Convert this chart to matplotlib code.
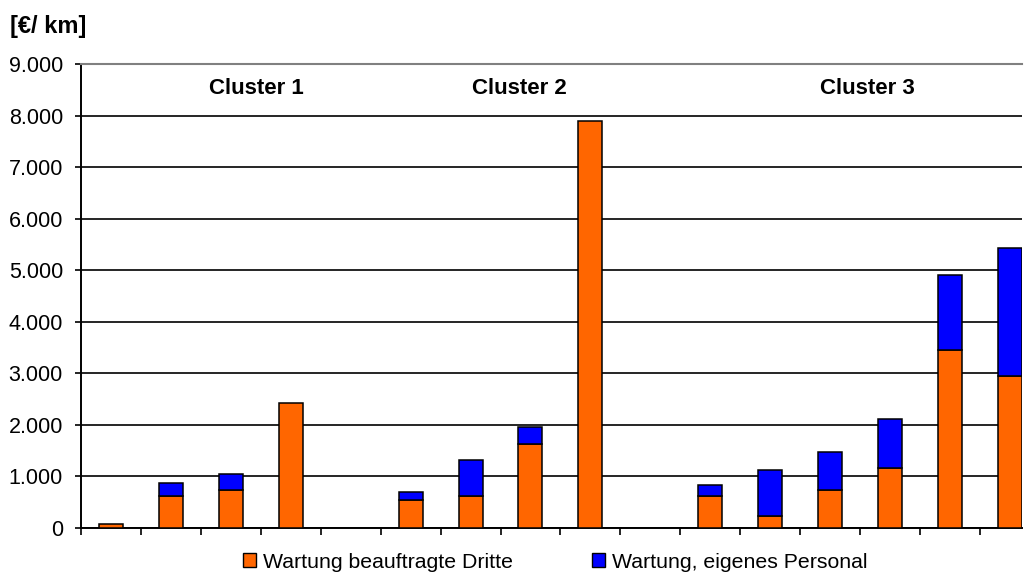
import matplotlib
matplotlib.use("Agg")
import matplotlib.pyplot as plt
from matplotlib.patches import Patch
from matplotlib.ticker import FuncFormatter
import numpy as np

plt.rcParams['font.family'] = ['Liberation Sans', 'DejaVu Sans']

# 16 category slots, empty slots separate the clusters
dritte = [80, 620, 735, 2420, 0, 540, 620, 1630, 7900, 0, 620, 230, 735, 1170, 3450, 2950]
eigen = [0, 250, 320, 0, 0, 160, 705, 320, 0, 0, 210, 900, 745, 940, 1450, 2490]
clusters = ['Cluster 1', 'Cluster 2', 'Cluster 3']
cluster_pos = [2.42, 6.81, 12.62]
series_names = ['Wartung beauftragte Dritte', 'Wartung, eigenes Personal']
y_ticks = [0, 1000, 2000, 3000, 4000, 5000, 6000, 7000, 8000, 9000]

orange = '#FF6600'
blue = '#0000FF'

fig = plt.figure(figsize=(10.28, 5.78), dpi=100)
ax = fig.add_axes([81 / 1028, 50 / 578, 941 / 1028, 464 / 578])

x = np.arange(len(dritte))
dritte = np.array(dritte)
eigen = np.array(eigen)
mask = (dritte + eigen) > 0

ax.bar(x[mask], dritte[mask], width=0.4, color=orange, edgecolor='black', linewidth=1.1, zorder=3)
m2 = eigen > 0
ax.bar(x[m2], eigen[m2], bottom=dritte[m2], width=0.4, color=blue, edgecolor='black', linewidth=1.1, zorder=3)

ax.set_ylim(0, 9000)
ax.set_xlim(-0.5, -0.5 + 941 / 59.93)
ax.set_yticks(y_ticks)
ax.yaxis.set_major_formatter(FuncFormatter(lambda v, p: f'{int(v):,}'.replace(',', '.')))
ax.set_xticks(np.arange(-0.5, 15, 1.0))
ax.set_xticklabels([])
ax.tick_params(axis='y', length=4, width=1.2, pad=9, labelsize=15.5, direction='out')
ax.tick_params(axis='x', length=5, width=1.2, direction='out')

ax.yaxis.grid(True, color='black', linewidth=1.2, zorder=0)
ax.set_axisbelow(True)

ax.spines['left'].set_linewidth(1.4)
ax.spines['bottom'].set_linewidth(1.4)
ax.spines['top'].set_color('#808080')
ax.spines['top'].set_linewidth(1.5)
ax.spines['right'].set_visible(False)

for name, pos in zip(clusters, cluster_pos):
    ax.text(pos, 8530, name, ha='center', va='center', fontsize=16, fontweight='bold')

fig.text(10 / 1028, 1 - 27 / 578, '[€/ km]', ha='left', va='center', fontsize=17, fontweight='bold')

handles = [Patch(facecolor=orange, edgecolor='black', linewidth=1),
           Patch(facecolor=blue, edgecolor='black', linewidth=1)]
fig.legend(handles, series_names, loc='center left', bbox_to_anchor=(243 / 1028, 1 - 562 / 578),
           ncol=2, frameon=False, fontsize=15.3, handlelength=0.6, handleheight=0.6,
           handletextpad=0.35, columnspacing=3.7, borderpad=0, borderaxespad=0)

fig.savefig('out.png', dpi=100)
